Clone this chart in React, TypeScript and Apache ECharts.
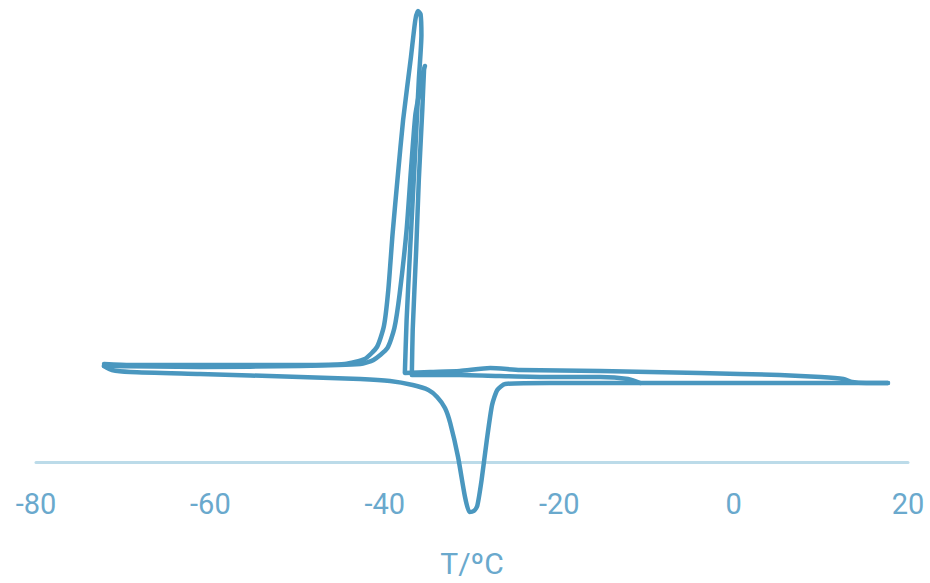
import React, { useEffect, useRef } from "react";
import * as echarts from "echarts";

// Temperature (°C) vs heat flow (arbitrary units)
const coolingRunA: number[][] = [
  [17.7, 7.9], [15.2, 7.9], [13.6, 8.0], [12.6, 8.3], [10.0, 8.5], [5.3, 8.7],
  [-3.9, 8.9], [-15.3, 9.1], [-24.5, 9.2], [-27.9, 9.4], [-31.4, 9.1],
  [-34.8, 9.0], [-37.7, 8.9], [-37.5, 14.2], [-37.1, 21.2], [-36.5, 31.2],
  [-36.1, 38.2], [-35.8, 42.7], [-35.9, 44.8], [-36.2, 45.1], [-36.5, 44.2],
  [-37.0, 40.5], [-37.9, 34.2], [-38.5, 28.7], [-39.1, 22.9], [-39.6, 17.2],
  [-40.1, 13.6], [-40.9, 11.5], [-42.3, 10.3], [-44.6, 9.8], [-49.7, 9.7],
  [-61.2, 9.7], [-69.2, 9.7], [-72.2, 9.8],
];

const coolingRunB: number[][] = [
  [-10.7, 7.9], [-12.1, 8.3], [-15.3, 8.5], [-21.1, 8.5], [-26.8, 8.6],
  [-31.4, 8.7], [-36.9, 8.7], [-36.8, 13.2], [-36.4, 21.2], [-36.1, 28.2],
  [-35.7, 35.2], [-35.5, 39.2], [-35.4, 39.6], [-35.6, 39.0], [-36.1, 36.7],
  [-36.5, 34.7], [-37.0, 29.2], [-37.5, 23.2], [-38.3, 16.8], [-38.9, 13.4],
  [-39.7, 11.4], [-41.3, 10.2], [-42.8, 9.8], [-49.7, 9.6], [-61.2, 9.5],
  [-72.2, 9.6],
];

const heatingRun: number[][] = [
  [-72.2, 9.6], [-71.3, 9.2], [-69.2, 9.0], [-61.2, 8.8], [-49.7, 8.5],
  [-42.8, 8.3], [-39.4, 8.1], [-36.8, 7.7], [-35.0, 7.2], [-34.0, 6.5],
  [-33.1, 5.4], [-32.5, 3.9], [-31.6, 0.5], [-30.8, -3.5], [-30.3, -5.0],
  [-29.8, -4.9], [-29.4, -4.4], [-28.9, -1.8], [-28.3, 2.2], [-27.7, 5.7],
  [-27.1, 7.2], [-26.2, 7.8], [-21.1, 7.9], [-3.9, 7.9], [17.7, 7.9],
];

const xTicks = { min: -80, max: 20, interval: 20 };
const axisTitle = "T/ºC";

const lineColor = "#4a97bf";
const labelColor = "#6aa9cd";

export default function App() {
  const ref = useRef<HTMLDivElement>(null);
  useEffect(() => {
    if (!ref.current) return;
    const chart = echarts.init(ref.current, undefined, { renderer: "svg" });
    const mk = (name: string, data: number[][]) => ({
      name,
      type: "line",
      data,
      showSymbol: false,
      symbol: "none",
      smooth: 0.2,
      clip: false,
      lineStyle: { color: lineColor, width: 4.5, cap: "round", join: "round" },
    });
    chart.setOption({
      animation: false,
      grid: {
        left: 36,
        right: 22,
        top: 2,
        bottom: 121,
        containLabel: false,
        outerBoundsMode: "none",
      },
      xAxis: {
        type: "value",
        min: xTicks.min,
        max: xTicks.max,
        interval: xTicks.interval,
        name: axisTitle,
        nameLocation: "middle",
        nameGap: 86,
        nameTextStyle: { color: labelColor, fontSize: 30, fontFamily: "Roboto" },
        axisLine: { onZero: false, lineStyle: { color: "#bcdbe9", width: 3 } },
        axisTick: { show: false },
        splitLine: { show: false },
        axisLabel: { color: labelColor, fontSize: 29, fontFamily: "Roboto", margin: 27 },
      },
      yAxis: {
        type: "value",
        min: 0,
        max: 46,
        show: false,
        splitLine: { show: false },
      },
      series: [
        mk("cooling A", coolingRunA),
        mk("cooling B", coolingRunB),
        mk("heating", heatingRun),
      ],
    });
    return () => chart.dispose();
  }, []);
  return <div ref={ref} style={{ width: 930, height: 583, position: "absolute", left: 0, top: 0 }} />;
}
